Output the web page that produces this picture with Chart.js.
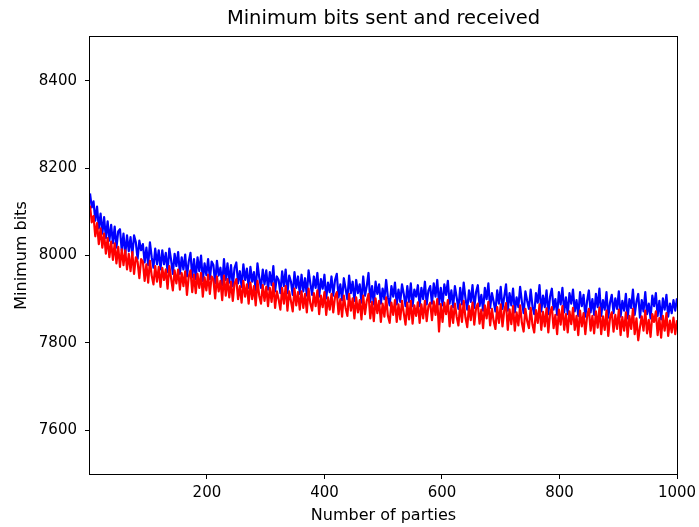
<!DOCTYPE html>
<html>
<head>
<meta charset="utf-8">
<script src="https://cdn.jsdelivr.net/npm/chart.js@4.4.1/dist/chart.umd.min.js"></script>
<style>
  body { margin: 0; background: #fff; }
  #wrap { width: 699px; height: 527px; }
</style>
</head>
<body>
<div id="wrap"><canvas id="c" width="699" height="527"></canvas></div>
<script>
// 참가자 수 (x축): 1, 4, 7, ... 1000
const parties = [];
for (let p = 1; p <= 1000; p += 3) parties.push(p);

// 파란선 - sent (한 줄 = 10개)
const sentBits = [
  8142, 8110, 8124, 8080, 8112, 8062, 8096, 8050, 8088, 8040,
  8078, 8034, 8070, 8028, 8066, 8018, 8055, 8060, 8012, 8050,
  8002, 8046, 8010, 8042, 8000, 8046, 8030, 7992, 8034, 8012,
  8026, 7984, 8018, 7978, 8030, 7996, 7972, 8016, 7980, 8012,
  7968, 8012, 7980, 8006, 7962, 8016, 7990, 7958, 8004, 7976,
  8008, 7958, 7996, 7968, 8002, 7952, 7986, 8006, 7950, 7992,
  7946, 7996, 7964, 8000, 7942, 7982, 7955, 7992, 7946, 7986,
  7978, 7936, 7988, 7954, 7972, 7932, 7992, 7944, 7982, 7938,
  7978, 7930, 7972, 7984, 7936, 7964, 7928, 7980, 7944, 7970,
  7926, 7974, 7940, 7962, 7920, 7982, 7950, 7926, 7968, 7934,
  7966, 7922, 7962, 7932, 7976, 7918, 7952, 7944, 7914, 7964,
  7930, 7968, 7914, 7954, 7940, 7910, 7962, 7926, 7952, 7912,
  7956, 7918, 7948, 7908, 7966, 7936, 7910, 7952, 7926, 7960,
  7906, 7946, 7924, 7956, 7902, 7938, 7916, 7952, 7908, 7944,
  7958, 7904, 7934, 7898, 7948, 7924, 7900, 7954, 7914, 7940,
  7896, 7944, 7914, 7934, 7892, 7952, 7908, 7930, 7960, 7894,
  7930, 7888, 7940, 7912, 7934, 7890, 7924, 7900, 7944, 7904,
  7886, 7930, 7906, 7938, 7888, 7922, 7894, 7934, 7912, 7884,
  7930, 7894, 7936, 7884, 7922, 7906, 7932, 7884, 7926, 7900,
  7940, 7888, 7920, 7930, 7890, 7936, 7906, 7944, 7888, 7926,
  7886, 7934, 7910, 7942, 7890, 7920, 7882, 7930, 7904, 7878,
  7926, 7888, 7938, 7902, 7876, 7920, 7894, 7932, 7880, 7916,
  7932, 7884, 7910, 7874, 7926, 7900, 7936, 7880, 7914, 7894,
  7872, 7920, 7890, 7928, 7878, 7906, 7934, 7874, 7914, 7886,
  7924, 7870, 7904, 7882, 7928, 7894, 7868, 7918, 7896, 7878,
  7922, 7884, 7866, 7914, 7892, 7932, 7872, 7908, 7882, 7920,
  7866, 7906, 7924, 7876, 7900, 7864, 7916, 7888, 7926, 7870,
  7904, 7866, 7914, 7890, 7922, 7872, 7898, 7862, 7916, 7884,
  7910, 7860, 7896, 7920, 7870, 7900, 7864, 7912, 7882, 7924,
  7862, 7898, 7876, 7916, 7858, 7892, 7910, 7868, 7902, 7878,
  7918, 7860, 7896, 7874, 7912, 7856, 7900, 7880, 7922, 7864,
  7894, 7912, 7858, 7898, 7872, 7916, 7866, 7890, 7856, 7908,
  7884, 7914, 7862, 7896, 7854, 7902, 7876, 7910, 7860, 7890,
  7868, 7898, 7874, 7902
];

// 빨간선 - received
const receivedBits = [
  8114, 8076, 8090, 8044, 8074, 8026, 8062, 8018, 8050, 8004,
  8040, 7996, 8032, 7990, 8028, 7982, 8020, 7974, 8014, 7978,
  8012, 7968, 8004, 7964, 8008, 7958, 7996, 7986, 7948, 7992,
  7986, 7942, 7980, 7938, 7988, 7954, 7934, 7976, 7940, 7974,
  7928, 7972, 7944, 7968, 7924, 7976, 7948, 7920, 7966, 7936,
  7968, 7922, 7960, 7930, 7964, 7910, 7952, 7966, 7916, 7956,
  7914, 7958, 7926, 7960, 7906, 7950, 7920, 7956, 7912, 7952,
  7946, 7902, 7952, 7918, 7942, 7898, 7954, 7908, 7946, 7904,
  7940, 7896, 7936, 7946, 7900, 7930, 7892, 7942, 7906, 7934,
  7890, 7938, 7900, 7930, 7886, 7942, 7908, 7890, 7932, 7896,
  7928, 7884, 7926, 7894, 7936, 7880, 7918, 7900, 7876, 7926,
  7890, 7930, 7874, 7918, 7896, 7872, 7924, 7886, 7916, 7876,
  7918, 7880, 7912, 7870, 7924, 7890, 7874, 7914, 7884, 7920,
  7866, 7908, 7882, 7916, 7864, 7904, 7876, 7912, 7870, 7906,
  7916, 7866, 7900, 7860, 7908, 7880, 7862, 7912, 7874, 7902,
  7856, 7904, 7870, 7898, 7854, 7908, 7866, 7896, 7912, 7856,
  7894, 7850, 7902, 7868, 7896, 7848, 7890, 7860, 7904, 7862,
  7846, 7892, 7864, 7898, 7848, 7888, 7854, 7896, 7868, 7842,
  7892, 7854, 7896, 7844, 7886, 7862, 7893, 7846, 7888, 7856,
  7896, 7850, 7884, 7892, 7852, 7895, 7864, 7900, 7826, 7889,
  7848, 7892, 7866, 7898, 7838, 7884, 7846, 7890, 7860, 7840,
  7888, 7848, 7896, 7858, 7836, 7884, 7852, 7892, 7842, 7880,
  7890, 7844, 7876, 7834, 7886, 7856, 7894, 7840, 7878, 7850,
  7832, 7882, 7846, 7888, 7838, 7874, 7891, 7830, 7877, 7843,
  7884, 7828, 7870, 7840, 7886, 7846, 7826, 7878, 7850, 7834,
  7880, 7842, 7824, 7875, 7846, 7888, 7830, 7871, 7838, 7879,
  7824, 7868, 7882, 7834, 7864, 7820, 7876, 7842, 7884, 7830,
  7866, 7824, 7872, 7843, 7880, 7830, 7862, 7818, 7874, 7838,
  7868, 7820, 7861, 7878, 7828, 7862, 7822, 7872, 7835, 7881,
  7820, 7861, 7830, 7874, 7816, 7858, 7870, 7826, 7864, 7832,
  7876, 7818, 7859, 7828, 7870, 7814, 7862, 7832, 7878, 7820,
  7856, 7806, 7836, 7861, 7828, 7874, 7822, 7853, 7814, 7866,
  7848, 7872, 7818, 7857, 7812, 7862, 7828, 7868, 7816, 7851,
  7824, 7858, 7820, 7852
];

const xTicks = [200, 400, 600, 800, 1000];
const yTicks = [7600, 7800, 8000, 8200, 8400];

const FONT = "'DejaVu Sans', sans-serif";

// 축 테두리 (matplotlib 스타일 박스)
const frameBox = {
  id: 'frameBox',
  afterDatasetsDraw(chart) {
    const a = chart.chartArea;
    const ctx = chart.ctx;
    ctx.save();
    ctx.strokeStyle = '#000';
    ctx.lineWidth = 1;
    ctx.strokeRect(Math.round(a.left) - 0.5, Math.round(a.top) - 0.5,
      Math.round(a.right - a.left) + 1, Math.round(a.bottom - a.top) + 1);
    ctx.restore();
  }
};

function toPoints(vals) {
  return vals.map((v, i) => ({ x: parties[i], y: v }));
}

new Chart(document.getElementById('c'), {
  type: 'line',
  data: {
    datasets: [{
      label: 'sent',
      data: toPoints(sentBits),
      borderColor: '#0000ff',
      borderWidth: 2.2,
      borderJoinStyle: 'round',
      pointRadius: 0,
      order: 2
    }, {
      label: 'received',
      data: toPoints(receivedBits),
      borderColor: '#ff0000',
      borderWidth: 2.2,
      borderJoinStyle: 'round',
      pointRadius: 0,
      order: 1
    }]
  },
  options: {
    responsive: false,
    animation: false,
    layout: { padding: { left: 0, right: 22, top: 0, bottom: 0 } },
    plugins: {
      legend: { display: false },
      tooltip: { enabled: false },
      title: {
        display: true,
        fullSize: false,
        text: 'Minimum bits sent and received',
        color: '#000',
        font: { family: FONT, size: 19.5, weight: 'normal' },
        padding: { top: 7, bottom: 6.6 }
      }
    },
    scales: {
      x: {
        type: 'linear',
        min: 1,
        max: 1000,
        afterBuildTicks: (s) => { s.ticks = xTicks.map(v => ({ value: v })); },
        afterFit: (s) => { s.height = 53; s.paddingLeft = 0; s.paddingRight = 0; },
        border: { display: false },
        grid: { drawOnChartArea: false, drawTicks: true, tickLength: 5, color: '#000' },
        ticks: {
          color: '#000', padding: 5, maxRotation: 0,
          font: { family: FONT, size: 15 },
          callback: (v) => String(v)
        },
        title: {
          display: true,
          text: 'Number of parties',
          color: '#000',
          font: { family: FONT, size: 16 },
          padding: { top: 0, bottom: 2 }
        }
      },
      y: {
        min: 7500,
        max: 8500,
        afterBuildTicks: (s) => { s.ticks = yTicks.map(v => ({ value: v })); },
        afterFit: (s) => { s.width = 90; s.paddingTop = 0; s.paddingBottom = 0; },
        border: { display: false },
        grid: { drawOnChartArea: false, drawTicks: true, tickLength: 5, color: '#000' },
        ticks: {
          color: '#000', padding: 8,
          font: { family: FONT, size: 15 },
          callback: (v) => String(v)
        },
        title: {
          display: true,
          text: 'Minimum bits',
          color: '#000',
          font: { family: FONT, size: 16 },
          padding: { top: 12, bottom: 0 }
        }
      }
    }
  },
  plugins: [frameBox]
});
</script>
</body>
</html>
